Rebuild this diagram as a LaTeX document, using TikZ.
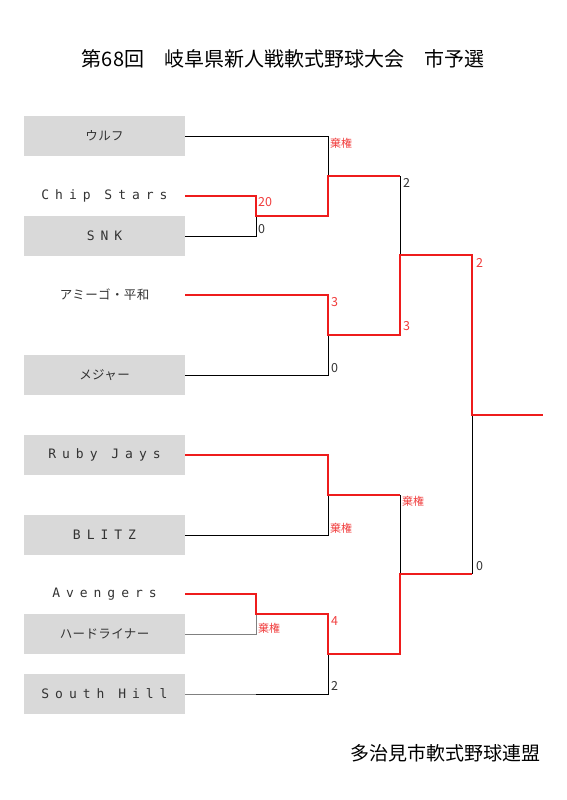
\documentclass[tikz,border=0pt]{standalone}
\usepackage{fontspec}
\usepackage{tikz}
\usetikzlibrary{positioning}

\newfontfamily\jp{Noto Sans CJK JP}
\newfontfamily\teamjp[LetterSpace=3]{Noto Sans CJK JP}
\newfontfamily\teamlat[LetterSpace=46]{DejaVu Sans Mono}

\definecolor{boxgray}{HTML}{D9D9D9}
\definecolor{inkgray}{HTML}{333333}
\definecolor{winred}{HTML}{EE1C1C}
\definecolor{scorered}{HTML}{F03C3C}

\begin{document}
\begin{tikzpicture}[
  x=1pt, y=-1pt,
  team/.style={rectangle, minimum width=161pt, minimum height=40pt,
               inner sep=0pt, outer sep=0pt, align=center, text=inkgray},
  teambox/.style={team, fill=boxgray},
  win/.style={draw=winred, line width=2pt},
  loss/.style={draw=black, line width=0.8pt},
  lossgray/.style={draw=gray, line width=1pt},
  score/.style={anchor=west, inner sep=0pt, font=\jp\fontsize{12.5}{12.5}\selectfont,
                text=scorered},
  scorelo/.style={score, text=inkgray},
  forfeit/.style={score, font=\jp\fontsize{11}{11}\selectfont}
]
  \useasboundingbox (0,0) rectangle (566,800);

  % title and footer
  \node[font=\jp\fontsize{20}{20}\selectfont, text=black] (title) at (283,59)
    {第68回　岐阜県新人戦軟式野球大会　市予選};
  \node[font=\jp\fontsize{19}{19}\selectfont, text=black] (league) at (445,753)
    {多治見市軟式野球連盟};

  % teams
  \node[teambox, font=\teamjp\fontsize{12.5}{12.5}\selectfont] (wolf) at (104.5,136) {ウルフ};
  \node[team, font=\teamlat\fontsize{13}{13}\selectfont, below=20pt of wolf] (chip) {Chip Stars};
  \node[teambox, font=\teamlat\fontsize{13}{13}\selectfont, below=0pt of chip] (snk) {SNK};
  \node[team, font=\teamjp\fontsize{12.5}{12.5}\selectfont, below=19pt of snk] (amigo) {アミーゴ・平和};
  \node[teambox, font=\teamjp\fontsize{12.5}{12.5}\selectfont, below=40pt of amigo] (major) {メジャー};
  \node[teambox, font=\teamlat\fontsize{13}{13}\selectfont, below=40pt of major] (ruby) {Ruby Jays};
  \node[teambox, font=\teamlat\fontsize{13}{13}\selectfont, below=40pt of ruby] (blitz) {BLITZ};
  \node[team, font=\teamlat\fontsize{13}{13}\selectfont, below=19pt of blitz] (aveng) {Avengers};
  \node[teambox, font=\teamjp\fontsize{12.5}{12.5}\selectfont, below=0pt of aveng] (hard) {ハードライナー};
  \node[teambox, font=\teamlat\fontsize{13}{13}\selectfont, below=20pt of hard] (south) {South Hill};

  % bracket joints
  \coordinate (r1a) at (256,216);
  \coordinate (r1b) at (256,614);
  \coordinate (r2a) at (328,176);
  \coordinate (r2b) at (328,335);
  \coordinate (r2c) at (328,495);
  \coordinate (r2d) at (328,654);
  \coordinate (r3a) at (400,255);
  \coordinate (r3b) at (400,574);
  \coordinate (fin) at (472,415);
  \coordinate (champ) at (543,415);

  % losing lines
  \draw[loss] (wolf.east) -| (r2a);
  \draw[loss] (snk.east) -| (r1a);
  \draw[loss] (major.east) -| (r2b);
  \draw[loss] (r2a -| r3a) -- (r3a);
  \draw[loss] (blitz.east) -| (r2c);
  \draw[loss] (r2c -| r3b) -- (r3b);
  \draw[lossgray] (hard.east) -| (r1b);
  \draw[lossgray] (south.east) -- (south.east -| r1b);
  \draw[loss] (south.east -| r1b) -| (r2d);
  \draw[loss] (r3b -| fin) -- (fin);

  % winning lines
  \draw[win] (chip.east) -| (r1a) -| (r2a) -- (r2a -| r3a);
  \draw[win] (amigo.east) -| (r2b) -| (r3a) -| (fin) -- (champ);
  \draw[win] (ruby.east) -| (r2c) -- (r2c -| r3b);
  \draw[win] (aveng.east) -| (r1b) -| (r2d) -| (r3b) -- (r3b -| fin);

  % scores
  \node[forfeit] (sWolf) at (330,143) {棄権};
  \node[score] (sChip) at (258,202) {20};
  \node[scorelo] (sSnk) at (258,229) {0};
  \node[scorelo] (sTop) at (403,183) {2};
  \node[score] (sAmigo) at (331,302) {3};
  \node[scorelo] (sMajor) at (331,368) {0};
  \node[score] (sMid) at (403,326) {3};
  \node[score] (sFinA) at (476,263) {2};
  \node[forfeit] (sRuby) at (402,501) {棄権};
  \node[forfeit] (sBlitz) at (330,528) {棄権};
  \node[forfeit] (sHard) at (258,628) {棄権};
  \node[score] (sAveng) at (331,621) {4};
  \node[scorelo] (sSouth) at (331,686) {2};
  \node[scorelo] (sFinB) at (476,566) {0};
\end{tikzpicture}
\end{document}
